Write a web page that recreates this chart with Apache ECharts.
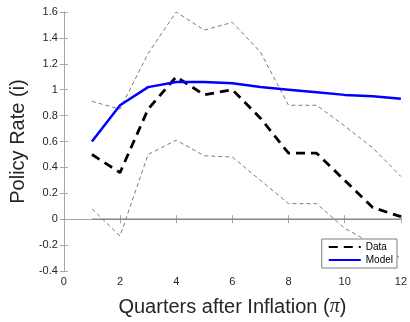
<!DOCTYPE html>
<html>
<head>
<meta charset="utf-8">
<script src="https://cdn.jsdelivr.net/npm/echarts@6/dist/echarts.min.js"></script>
<style>
html,body{margin:0;padding:0;background:#fff;}
#main{width:410px;height:322px;}
</style>
</head>
<body>
<div id="main"></div>
<script>
var quarters = [1,2,3,4,5,6,7,8,9,10,11,12];
var dataRate  = [0.50,0.36,0.85,1.10,0.96,1.00,0.78,0.51,0.51,0.30,0.09,0.02];
var modelRate = [0.60,0.88,1.02,1.06,1.06,1.05,1.02,1.00,0.98,0.96,0.95,0.93];
var upperBand = [0.91,0.85,1.28,1.60,1.46,1.52,1.29,0.88,0.88,0.72,0.55,0.33];
var lowerBand = [0.08,-0.13,0.50,0.61,0.49,0.48,0.30,0.12,0.12,-0.07,-0.19,-0.30];
var zeroLine  = [0,0,0,0,0,0,0,0,0,0,0,0];

function pairs(ys){
	var out=[];
	for(var i=0;i<quarters.length;i++){ out.push([quarters[i],ys[i]]); }
	return out;
}

var axisGrey='#a6a6a6';
var txt='#262626';
var myChart = echarts.init(document.getElementById('main'));
var option={
	animation:false,
	grid:{left:55,right:8,top:12,bottom:45},
	legend:{
		right:13,bottom:54,
		orient:'vertical',
		itemGap:3,
		itemWidth:32,itemHeight:8,
		padding:[3,4,3,6],
		backgroundColor:'#fff',
		borderColor:'#7f7f7f',borderWidth:1,
		itemStyle:{opacity:0},
		textStyle:{fontSize:10,color:'#000',fontFamily:'Liberation Sans'},
		data:['Data','Model']
	},
	xAxis:[{
		type:'value',min:0,max:12,interval:2,
		name:'Quarters after Inflation ({pi|π})',
		nameLocation:'middle',nameGap:26,
		nameTextStyle:{fontSize:20,color:txt,fontFamily:'Liberation Sans',
			rich:{pi:{fontSize:20,fontStyle:'italic',fontFamily:'Liberation Serif',color:txt}}},
		axisLine:{lineStyle:{color:axisGrey}},
		axisTick:{inside:true,length:4,lineStyle:{color:axisGrey}},
		axisLabel:{fontSize:11,color:txt,margin:5,fontFamily:'Liberation Sans'},
		splitLine:{show:false}
	},{
		type:'value',min:0,max:12,interval:2,position:'top',
		axisLine:{lineStyle:{color:axisGrey}},
		axisTick:{inside:true,length:4,lineStyle:{color:axisGrey}},
		axisLabel:{show:false},splitLine:{show:false}
	}],
	yAxis:[{
		type:'value',min:-0.4,max:1.6,interval:0.2,
		name:'Policy Rate (i)',
		nameLocation:'middle',nameGap:34,
		nameTextStyle:{fontSize:20,color:txt,fontFamily:'Liberation Sans'},
		axisLine:{show:true,lineStyle:{color:axisGrey}},
		axisTick:{show:true,inside:true,length:4,lineStyle:{color:axisGrey}},
		axisLabel:{fontSize:11,color:txt,margin:6,fontFamily:'Liberation Sans',
			formatter:function(v){return String(Math.round(v*10)/10);}},
		splitLine:{show:false}
	},{
		type:'value',min:-0.4,max:1.6,interval:0.2,position:'right',
		axisLine:{show:true,lineStyle:{color:axisGrey}},
		axisTick:{show:true,inside:true,length:4,lineStyle:{color:axisGrey}},
		axisLabel:{show:false},splitLine:{show:false}
	}],
	series:[
		{name:'zero',type:'line',data:pairs(zeroLine),symbol:'none',silent:true,
			lineStyle:{color:'#808080',width:1.2}},
		{name:'upper',type:'line',data:pairs(upperBand),symbol:'none',clip:true,
			lineStyle:{color:'#7a7a7a',width:1,type:[4,3]}},
		{name:'lower',type:'line',data:pairs(lowerBand),symbol:'none',clip:true,
			lineStyle:{color:'#7a7a7a',width:1,type:[4,3]}},
		{name:'Data',type:'line',data:pairs(dataRate),symbol:'none',
			itemStyle:{color:'#000'},
			lineStyle:{color:'#000',width:2.8,type:[9,6]}},
		{name:'Model',type:'line',data:pairs(modelRate),symbol:'none',
			itemStyle:{color:'#0000ff'},
			lineStyle:{color:'#0000ff',width:2.5}}
	]
};
myChart.setOption(option);
window.onresize = myChart.resize;
</script>
</body>
</html>
